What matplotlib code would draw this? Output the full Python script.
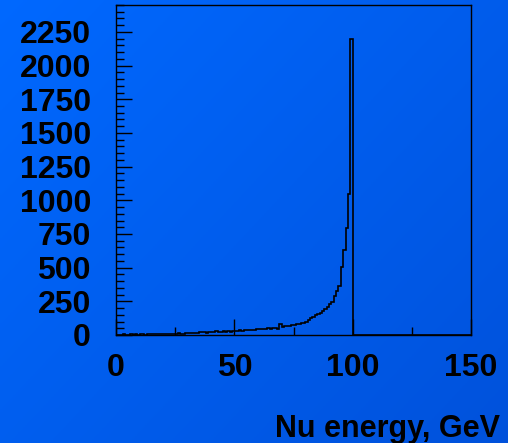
import numpy as np
import matplotlib
matplotlib.use("Agg")
import matplotlib.pyplot as plt
from matplotlib.ticker import MultipleLocator

plt.rcParams['font.family'] = ['Liberation Sans', 'DejaVu Sans']
plt.rcParams['font.weight'] = 'bold'

# neutrino energy spectrum, 1 GeV bins from 0 to 150
edges = np.arange(0, 151, 1)
counts_low = [2, 3, 2, 4, 3, 2, 5, 3, 4, 3,
              4, 5, 3, 6, 4, 5, 7, 4, 6, 8,
              6, 9, 5, 8, 10, 9, 12, 11, 10, 14,
              12, 15, 13, 18, 16, 20, 19, 22, 18, 21,
              24, 20, 26, 23, 25, 28, 24, 27, 22, 30,
              32, 28, 35, 33, 38, 36, 34, 40, 37, 42,
              45, 41, 48, 44, 50, 46, 52, 49, 47, 80,
              57, 65, 70, 68, 74, 72, 78, 82, 90, 92,
              100, 112, 125, 136, 148, 155, 165, 175, 193, 210,
              228, 247, 289, 326, 366, 502, 630, 796, 1046, 2200]
counts_high = [0] * 50
counts = np.array(counts_low + counts_high)

xticks = [0, 50, 100, 150]
yticks = [0, 250, 500, 750, 1000, 1250, 1500, 1750, 2000, 2250]

fig = plt.figure(figsize=(5.08, 4.43), dpi=100)

# blue gradient backdrop
bg = fig.add_axes([0, 0, 1, 1], zorder=-10)
gx, gy = np.meshgrid(np.linspace(0, 1, 200), np.linspace(0, 1, 200))
t = 0.55 * gx + 0.45 * gy
top = np.array([0.0, 0.41, 1.0])
bot = np.array([0.0, 0.32, 0.86])
img = top[None, None, :] * (1 - t[..., None]) + bot[None, None, :] * t[..., None]
bg.imshow(img, aspect='auto', extent=[0, 1, 0, 1], origin='upper')
bg.set_axis_off()

ax = fig.add_axes([116 / 508, 108 / 443, 355 / 508, 330 / 443])
ax.set_facecolor('none')
ax.stairs(counts, edges, color='black', linewidth=1.2, baseline=0)

ax.set_xlim(0, 150)
ax.set_ylim(0, 2450)
ax.set_xticks(xticks)
ax.set_yticks(yticks)
ax.xaxis.set_minor_locator(MultipleLocator(25))
ax.yaxis.set_minor_locator(MultipleLocator(50))
ax.tick_params(which='major', direction='in', length=11.5, width=1,
               labelsize=23, colors='black', pad=8)
ax.tick_params(which='minor', direction='in', length=5.8, width=1)
ax.tick_params(axis='y', which='major', pad=18)
ax.tick_params(axis='x', which='major', pad=13)
for lab in ax.get_xticklabels() + ax.get_yticklabels():
    lab.set_fontweight('bold')
for s in ax.spines.values():
    s.set_linewidth(1)
    s.set_color('black')

fig.text(500 / 508, 6 / 443, 'Nu energy, GeV', ha='right', va='baseline',
         fontsize=22, fontweight='bold', color='black')

fig.savefig('out.png', dpi=100)
